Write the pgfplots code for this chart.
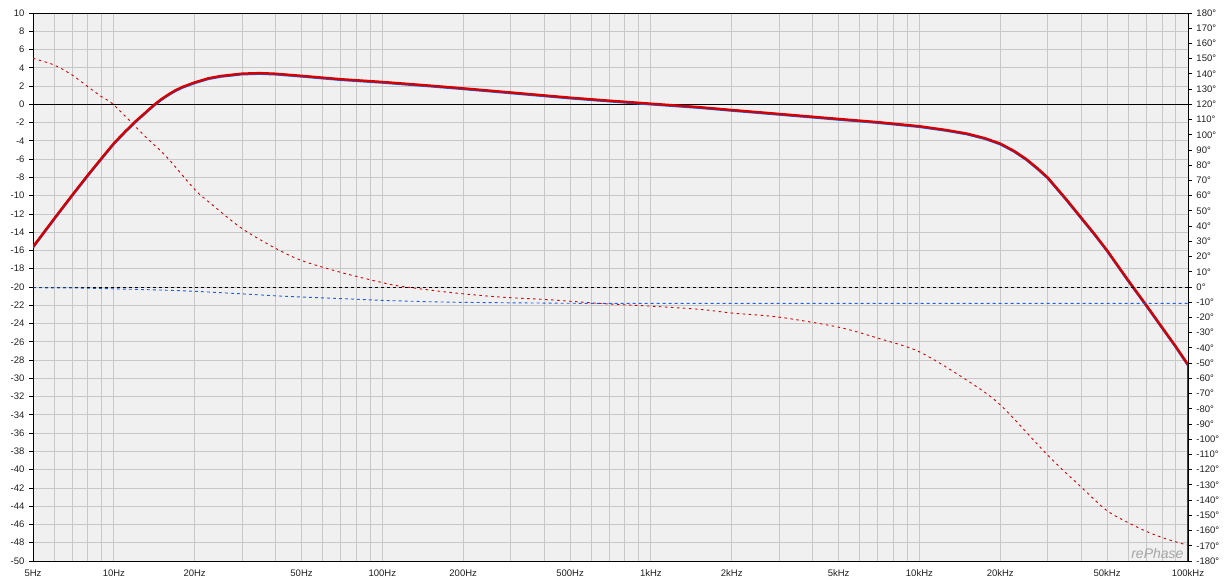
\documentclass[border=0pt]{standalone}
\usepackage{fontspec}
\setmainfont{Liberation Sans}
\usepackage{pgfplots}
\usepackage{pgfplotstable}
\pgfplotsset{compat=1.18}
\definecolor{bg}{HTML}{F0F0F0}
\definecolor{gridc}{HTML}{C8C8C8}
\definecolor{magred}{HTML}{D40000}
\definecolor{phblue}{HTML}{1A5FE6}
\definecolor{lbl}{HTML}{202020}

\pgfplotstableread{
f db
5 -15.6
6 -12.5
7 -9.93
8 -7.75
9 -5.9
10 -4.27
11 -3.0
12 -1.9
13 -1.0
14 -0.15
15 0.55
16 1.1
17 1.55
18 1.9
20 2.4
22.5 2.85
25 3.1
30 3.36
35 3.42
40 3.35
50 3.12
70 2.75
100 2.45
150 2.05
200 1.75
300 1.3
500 0.73
700 0.4
1000 0.07
1500 -0.3
2000 -0.62
3000 -1.05
5000 -1.6
7000 -1.95
10000 -2.4
12500 -2.8
15000 -3.2
17500 -3.7
20000 -4.3
22500 -5.1
25000 -6.0
27500 -7.0
30000 -8.0
35000 -10.3
40000 -12.4
45000 -14.25
50000 -16.0
60000 -19.3
70000 -22.0
80000 -24.4
90000 -26.5
100000 -28.5
}\magtable

\pgfplotstableread{
f ph
5 150.2
6 145.8
7 139.2
8 131.6
9 125
10 119.6
13.1 98.8
15.7 85.6
20 64.1
23.3 53.9
30 38.4
40 25.4
50 17.4
70 9.6
96 3.6
116 0.6
179 -3.6
274 -6.6
421 -8.4
647 -10.8
1000 -12.6
1525 -14.7
2000 -17.1
3000 -19.8
5000 -26.4
7000 -33.6
10000 -42.6
15000 -61.2
20000 -77.4
30000 -110.4
40000 -131.4
50000 -147
61000 -155.5
72000 -161.5
83000 -165.5
96000 -168.8
100000 -169.5
}\phred

\pgfplotstableread{
f ph
5 -0.5
7 -0.6
10 -1.2
15 -2.0
20 -2.8
30 -4.5
40 -5.8
50 -6.6
70 -7.6
100 -8.8
150 -9.7
200 -10.1
300 -10.4
500 -10.7
700 -10.8
100000 -10.8
}\phblue

\begin{document}
\begin{tikzpicture}[font=\fontsize{9.5}{11}\selectfont]
\useasboundingbox (-33pt,-19pt) rectangle (1199pt,561pt);
\begin{axis}[
  at={(0,0)}, anchor=south west,
  scale only axis, width=1155pt, height=548pt,
  xmode=log, xmin=5, xmax=100000,
  ymin=-50, ymax=10,
  axis background/.style={fill=bg},
  xtick={5,6,7,8,9,10,20,30,40,50,60,70,80,90,100,200,300,400,500,600,700,800,900,1000,2000,3000,4000,5000,6000,7000,8000,9000,10000,20000,30000,40000,50000,60000,70000,80000,90000,100000},
  xticklabels={5Hz,,,,,10Hz,20Hz,,,50Hz,,,,,100Hz,200Hz,,,500Hz,,,,,1kHz,2kHz,,,5kHz,,,,,10kHz,20kHz,,,50kHz,,,,,100kHz},
  minor x tick num=0,
  minor y tick num=0,
  ytick={-50,-48,...,10},
  xmajorgrids=true, ymajorgrids=true,
  major grid style={gridc, line width=0.8pt},
  axis line style={black, line width=0.8pt},
  tick style={black, line width=0.8pt},
  tick align=outside,
  major tick length=4pt,
  minor tick length=0pt,
  major x tick style=transparent,
  ytick pos=left,
  /pgf/number format/assume math mode=true,
  tick label style={text=lbl},
  xticklabel style={yshift=-1pt},
  yticklabel style={xshift=-1pt},
  clip=true,
]
\addplot[black, line width=0.8pt] coordinates {(5,0) (100000,0)};
\addplot[phblue, line width=2.4pt, yshift=-0.6pt] table[x=f, y=db] {\magtable};
\addplot[magred, line width=2.4pt] table[x=f, y=db] {\magtable};
\addplot[magred, line width=2.4pt] coordinates {(100000,-28.5) (100000,-60)};
\node[anchor=south east, inner sep=2pt, text=black!35, font=\fontsize{14}{14}\selectfont\itshape] at (rel axis cs:0.998,0.0) {rePhase};
\end{axis}
\begin{axis}[
  at={(0,0)}, anchor=south west,
  scale only axis, width=1155pt, height=548pt,
  xmode=log, xmin=5, xmax=100000,
  ymin=-180, ymax=180,
  axis x line=none,
  axis y line*=right,
  ytick={-180,-170,...,180},
  yticklabel={\pgfmathprintnumber{\tick}°},
  axis line style={black, line width=0.8pt},
  tick style={black, line width=0.8pt},
  tick align=outside,
  major tick length=4pt,
  /pgf/number format/assume math mode=true,
  tick label style={text=lbl},
  yticklabel style={xshift=1pt},
  clip=true,
]
\addplot[black, line width=0.9pt, dash pattern=on 3pt off 3pt] coordinates {(5,0) (100000,0)};
\addplot[phblue, line width=0.9pt, dash pattern=on 3pt off 3pt] table[x=f, y=ph] {\phblue};
\addplot[magred, line width=0.9pt, dash pattern=on 2.5pt off 3.5pt, smooth] table[x=f, y=ph] {\phred};
\end{axis}
\end{tikzpicture}
\end{document}
